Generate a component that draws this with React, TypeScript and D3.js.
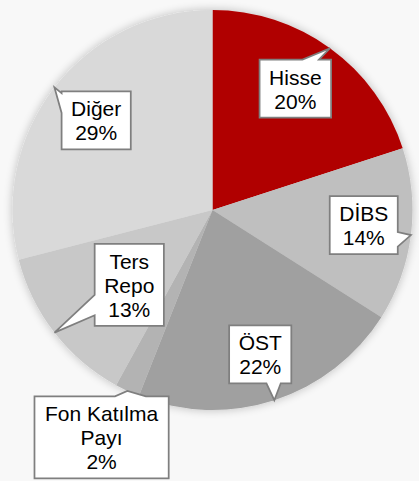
import React from "react";
import * as d3 from "d3";

const categories = ["Hisse", "DİBS", "ÖST", "Fon Katılma Payı", "Ters Repo", "Diğer"];
const values = [20, 14, 22, 2, 13, 29];
const labelLines = [["Hisse"], ["DİBS"], ["ÖST"], ["Fon Katılma", "Payı"], ["Ters", "Repo"], ["Diğer"]];
const colors = ["#b00000", "#bfbfbf", "#a0a0a0", "#b3b3b3", "#c8c8c8", "#d9d9d9"];

// layout of callouts (radius factor of pie radius, angle tweak in degrees, horizontal padding)
const labelRadius = [0.735, 0.76, 0.76, 1.265, 0.56, 0.734];
const labelAngleShift = [-1.7, -1.5, -0.3, 0.8, -4.2, -0.2];
const labelPadX = [9.5, 9.5, 9.5, 10.5, 9.5, 9.5];

const W = 419, H = 481;
const CX = 212.5, CY = 210, R = 200;
const FONT = 21, LH = 24;

function measure(t: string) {
  const c = document.createElement("canvas").getContext("2d")!;
  c.font = `${FONT}px "Liberation Sans", Arial, sans-serif`;
  return c.measureText(t).width;
}

function callout(x0: number, y0: number, x1: number, y1: number, tip: [number, number]) {
  const w = x1 - x0, h = y1 - y0;
  const cx = (x0 + x1) / 2, cy = (y0 + y1) / 2;
  const [tx, ty] = tip;
  const dxOut = tx < x0 ? x0 - tx : tx > x1 ? tx - x1 : 0;
  const dyOut = ty < y0 ? y0 - ty : ty > y1 ? ty - y1 : 0;
  if (dxOut === 0 && dyOut === 0) return `M${x0},${y0}H${x1}V${y1}H${x0}Z`;
  if (dyOut >= dxOut) {
    const t = tx > cx ? [0.6, 0.83] : [0.17, 0.4];
    const b0 = x0 + t[0] * w, b1 = x0 + t[1] * w;
    if (ty < y0) return `M${x0},${y0}L${b0},${y0}L${tx},${ty}L${b1},${y0}L${x1},${y0}L${x1},${y1}L${x0},${y1}Z`;
    return `M${x0},${y0}L${x1},${y0}L${x1},${y1}L${b1},${y1}L${tx},${ty}L${b0},${y1}L${x0},${y1}Z`;
  } else {
    const t = ty > cy ? [0.62, 0.87] : [0.03, 0.37];
    const b0 = y0 + t[0] * h, b1 = y0 + t[1] * h;
    if (tx < x0) return `M${x0},${y0}L${x1},${y0}L${x1},${y1}L${x0},${y1}L${x0},${b1}L${tx},${ty}L${x0},${b0}Z`;
    return `M${x0},${y0}L${x1},${y0}L${x1},${b0}L${tx},${ty}L${x1},${b1}L${x1},${y1}L${x0},${y1}Z`;
  }
}

export default function App() {
  const pie = d3.pie<number>().sort(null).value((d) => d);
  const arcs = pie(values);
  const arc = d3.arc<d3.PieArcDatum<number>>().innerRadius(0).outerRadius(R);

  return (
    <svg width={W} height={H} style={{ position: "absolute", left: 0, top: 0, background: "#f8f8f8" }}
      fontFamily='"Liberation Sans", Arial, sans-serif'>
      <defs>
        <filter id="sh" x="-20%" y="-20%" width="140%" height="140%">
          <feGaussianBlur in="SourceAlpha" stdDeviation="5" />
          <feComponentTransfer><feFuncA type="linear" slope="0.25" /></feComponentTransfer>
          <feMerge><feMergeNode /><feMergeNode in="SourceGraphic" /></feMerge>
        </filter>
      </defs>
      <g transform={`translate(${CX},${CY})`} filter="url(#sh)">
        {arcs.map((a, i) => (
          <path key={categories[i]} d={arc(a)!} fill={colors[i]} />
        ))}
      </g>
      {arcs.map((a, i) => {
        const mid = (a.startAngle + a.endAngle) / 2;
        const tip: [number, number] = [CX + R * Math.sin(mid), CY - R * Math.cos(mid)];
        const la = mid + (labelAngleShift[i] * Math.PI) / 180;
        const lr = R * labelRadius[i];
        const bx = CX + lr * Math.sin(la), by = CY - lr * Math.cos(la);
        const lines = [...labelLines[i], `${values[i]}%`];
        const tw = Math.max(...lines.map(measure));
        const bw = tw + 2 * labelPadX[i];
        const bh = lines.length * LH + 10;
        const x0 = bx - bw / 2, y0 = by - bh / 2;
        const firstBase = by - (lines.length * LH) / 2 + 20;
        return (
          <g key={categories[i]}>
            <path d={callout(x0, y0, x0 + bw, y0 + bh, tip)} fill="#ffffff" stroke="#7f7f7f" strokeWidth={1.75} strokeLinejoin="miter" />
            {lines.map((t, j) => (
              <text key={j} x={bx} y={firstBase + j * LH} textAnchor="middle" fontSize={FONT} fill="#000">{t}</text>
            ))}
          </g>
        );
      })}
    </svg>
  );
}
